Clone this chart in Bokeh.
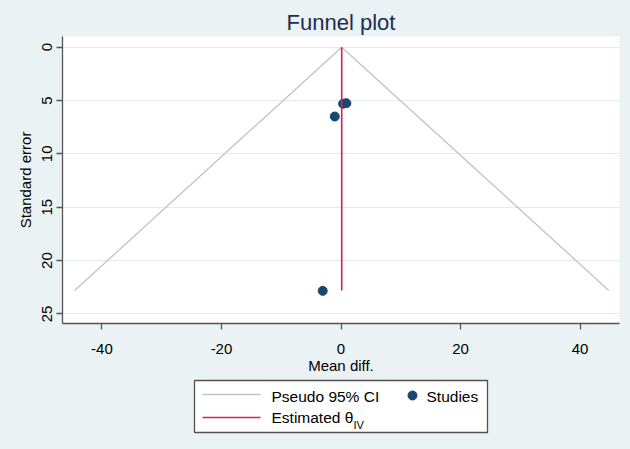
from bokeh.plotting import figure
from bokeh.layouts import column
from bokeh.models import Range1d, FixedTicker
from bokeh.core.properties import value
from bokeh.embed import file_html
from bokeh.resources import INLINE

# ---- data ----
study_effect = [0.35, 0.9, -1.04, -3.06]      # Mean diff.
study_se = [5.3, 5.25, 6.5, 22.84]            # Standard error
theta_iv = 0.12                               # Estimated theta (IV)
se_max = 22.8
z95 = 1.96
x_ticks = [-40, -20, 0, 20, 40]
y_ticks = [0, 5, 10, 15, 20, 25]
legend_labels = ["Pseudo 95% CI", "Studies", "Estimated θ", "IV"]

FONT = "Liberation Sans"
BG = "#EAF2F3"
NAVY = "#1A476F"
GRAYLINE = "#C2C2C2"
RED = "#DC1F50"
AXIS = "#555555"

FL, FR = 62, 619   # frame left/right in page pixels

p = figure(width=630, height=376, x_range=Range1d(-46.6, 46.6), y_range=Range1d(25.9, -1.0),
           output_backend="svg", toolbar_location=None,
           min_border_left=FL, min_border_right=630 - FR, min_border_top=36, min_border_bottom=48)
p.background_fill_color = "white"
p.border_fill_color = BG
p.outline_line_color = None

p.title.text = "Funnel plot"
p.title.align = "center"
p.title.vertical_align = "middle"
p.title.text_font = FONT
p.title.text_font_size = "22px"
p.title.text_font_style = "normal"
p.title.text_color = "#1F2D4F"
p.title.standoff = 2
p.title.offset = 0

p.xgrid.grid_line_color = None
p.ygrid.grid_line_color = "#E1ECEE"
p.ygrid.grid_line_width = 1

p.xaxis.ticker = FixedTicker(ticks=x_ticks)
p.yaxis.ticker = FixedTicker(ticks=y_ticks)
p.xaxis.major_label_overrides = {t: str(t) for t in x_ticks}
p.xaxis.axis_label = "Mean diff."
p.yaxis.axis_label = "Standard error"
p.yaxis.major_label_orientation = "vertical"
for ax in (p.xaxis[0], p.yaxis[0]):
    ax.axis_line_color = AXIS
    ax.axis_line_width = 1.3
    ax.major_tick_line_color = AXIS
    ax.major_tick_line_width = 1.3
    ax.major_tick_out = 6
    ax.major_tick_in = 0
    ax.minor_tick_line_color = None
    ax.major_label_text_font = FONT
    ax.major_label_text_font_size = "15px"
    ax.major_label_text_color = "black"
    ax.axis_label_text_font = FONT
    ax.axis_label_text_font_size = "15px"
    ax.axis_label_text_font_style = "normal"
    ax.axis_label_text_color = "black"
p.xaxis.major_label_standoff = 14
p.xaxis.axis_label_standoff = 0
p.yaxis.major_label_standoff = 4
p.yaxis.axis_label_standoff = 6

# pseudo 95% CI funnel
p.line([theta_iv - z95 * se_max, theta_iv, theta_iv + z95 * se_max], [se_max, 0, se_max],
       line_color=GRAYLINE, line_width=1.3)
# studies
p.scatter(study_effect, study_se, size=9, fill_color=NAVY, line_color=NAVY)
# estimated theta
p.line([theta_iv, theta_iv], [0, se_max], line_color=RED, line_width=1.6)

# ---- legend panel (frame aligned with main plot frame; units = page pixels) ----
LH = 449 - 376
lg = figure(width=630, height=LH, x_range=Range1d(FL, FR), y_range=Range1d(LH, 0),
            output_backend="svg", toolbar_location=None, min_border=0,
            min_border_left=FL, min_border_right=630 - FR)
lg.axis.visible = False
lg.grid.visible = False
lg.outline_line_color = None
lg.background_fill_color = BG
lg.border_fill_color = BG

lg.quad(left=[194], right=[487], top=[4], bottom=[56], fill_color="white",
        line_color="#505050", line_width=1.3)
lg.line([202, 260], [18, 18], line_color=GRAYLINE, line_width=1.5)
lg.line([202, 260], [41, 41], line_color=RED, line_width=1.6)
lg.scatter([412], [19], size=9, fill_color=NAVY, line_color=NAVY)
lg.text([271, 426, 271], [19.5, 19.5, 41], text=[legend_labels[0], legend_labels[1], legend_labels[2]],
        text_font=value(FONT), text_font_size="15.5px", text_baseline="middle",
        text_align="left", text_color="black")
lg.text([353], [48], text=[legend_labels[3]], text_font=value(FONT), text_font_size="11px",
        text_baseline="middle", text_align="left", text_color="black")

layout = column(p, lg, spacing=0)
layout.styles = {"background-color": BG}

open("out.html", "w").write(file_html(layout, INLINE))
